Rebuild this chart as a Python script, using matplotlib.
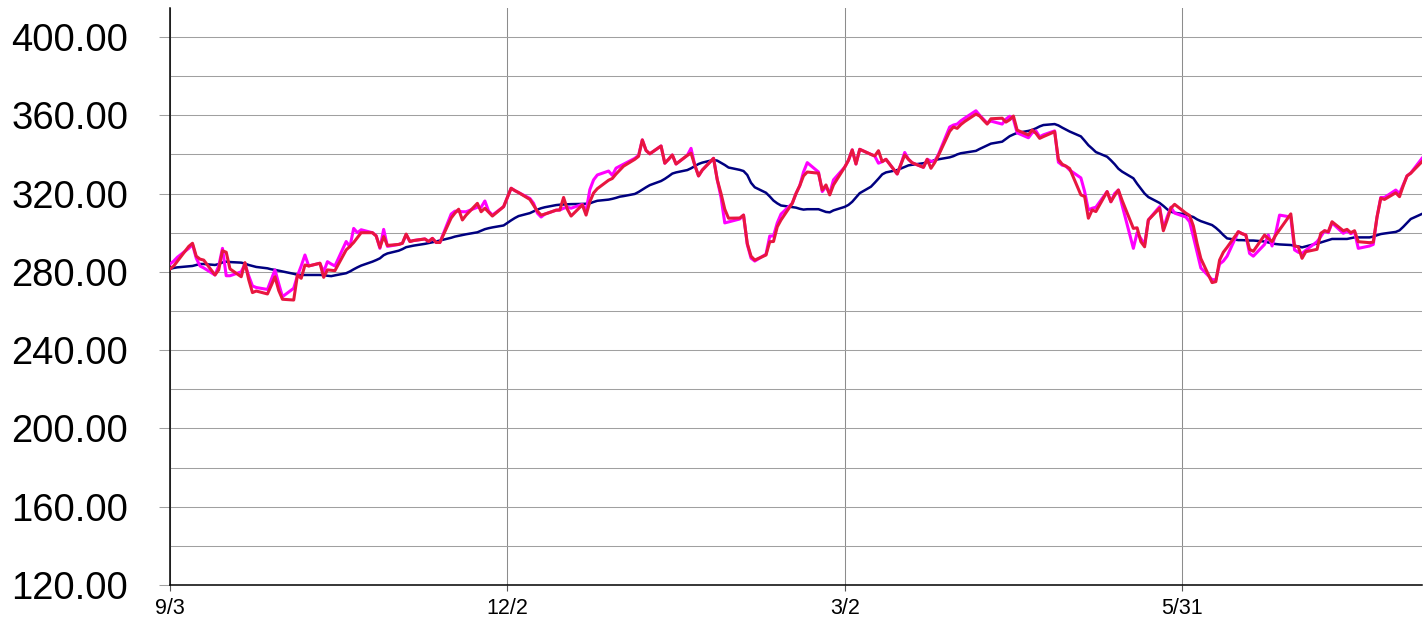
import matplotlib
matplotlib.use('Agg')
import matplotlib.pyplot as plt
import pandas as pd
from matplotlib.ticker import MultipleLocator, FuncFormatter, NullLocator

plt.rcParams['font.family'] = ['Liberation Sans', 'DejaVu Sans']

start_date = '2014-09-03'
end_date = '2015-08-03'
tick_dates = ['2014-09-03', '2014-12-02', '2015-03-02', '2015-05-31']
tick_labels = ['9/3', '12/2', '3/2', '5/31']

# one value per business day (weekly rows)
red = [
    281.5, 283, 285.5,
    293, 294.6, 288, 286.5, 286,
    278.4, 281, 290.8, 290, 281.5,
    277.5, 284.7, 276, 269.4, 270.2,
    268.7, 273, 277.5, 270.5, 266,
    265.6, 278.4, 276.7, 283.5, 283,
    284.4, 277.2, 281, 280.8, 280.6,
    291.2, 293, 295, 297.5, 300,
    300, 298.3, 292.5, 298, 293.5,
    294, 294.6, 299.3, 295.5, 296,
    296.8, 295.5, 297.1, 295, 295,
    307.5, 310, 312, 306.5, 309,
    315, 310.7, 312.5, 310.5, 308.5,
    313.3, 318, 322.7, 321.5, 320.5,
    317, 314, 311, 309, 309.5,
    311.5, 311.6, 318, 312, 308.5,
    314.2, 309, 315.8, 320.3, 322.5,
    326.8, 327.7, 330, 332, 334,
    337.5, 339, 347.4, 342, 340.3,
    344.3, 335.5, 337.5, 339.7, 335.1,
    339.5, 340.6, 334.5, 329, 332,
    338, 327, 320, 312, 307.4,
    307.5, 309, 294.5, 288, 286,
    288.6, 295.4, 295.5, 303, 306.5,
    315, 320, 324, 329, 331,
    330.4, 321.8, 324.4, 319.3, 324.4,
    333.5, 337, 342.3, 335.1, 342.6,
    340, 339.2, 341.9, 336.3, 337.5,
    330, 335, 339.7, 337.5, 335.7,
    333.4, 337.5, 332.9, 335.8, 339.5,
    351.8, 354, 353.3, 355.3, 356.8,
    360.6, 359.6, 357.5, 355.5, 358.2,
    358.5, 356.5, 357.7, 359.6, 352.4,
    349.9, 352.5, 350.8, 348.2, 349.1,
    351.6, 337.5, 335, 334, 332.8,
    319.3, 318.5, 307.4, 311.6, 310.8,
    321, 315.8, 319, 321.8, 316.5,
    302.2, 302.5, 295.4, 292.8, 306.5,
    312.5, 301, 306.5, 312.5, 314.5,
    310, 308.8, 303.5, 294.5, 286.8,
    274.5, 275, 286, 290, 292.5,
    300.5, 299.5, 298.8, 291.5, 290.5,
    298.8, 297, 295.5, 298.8, 301.5,
    309.6, 293.2, 292.8, 286.9, 290.3,
    291.5, 299.7, 301, 300.5, 305.6,
    301, 301.7, 300, 301, 295.4,
    294.9, 295.2, 308, 317.6, 317,
    320.4, 318.4, 324, 329, 330.4,
    336.3,
]

magenta = [
    284, 285.5, 287.5,
    292, 294, 287, 283, 282,
    278.4, 283, 292, 278, 278,
    280, 284, 278, 272.8, 272,
    271, 276, 281, 274, 267.3,
    271.6, 278, 283, 288.6, 283,
    284.4, 280, 285.2, 284, 283,
    295.5, 292.8, 302.2, 300, 301.5,
    300, 298.5, 292, 301.7, 293,
    294, 294.6, 299, 295.5, 296,
    296.8, 295.5, 297.1, 295, 295,
    309.5, 311, 311, 310.7, 310.7,
    313, 313, 316.2, 311, 309,
    313.3, 318, 322.7, 321.5, 320.5,
    317.5, 315, 310, 308, 309.5,
    311.5, 311.6, 312.5, 313, 312.5,
    314.5, 311, 322, 327, 329.5,
    331.5, 329.3, 333, 334, 335,
    338, 339.5, 347.4, 342, 340.3,
    344.3, 335.5, 337.5, 339.7, 335.1,
    339.5, 343.1, 334.5, 329, 332,
    338, 327, 318, 305, 305.5,
    307, 309, 294, 287, 285.5,
    289, 298.3, 298.3, 305, 309.5,
    315, 320, 324, 331, 335.8,
    331, 321, 323.5, 320, 327,
    333.5, 337, 342.3, 335.1, 342.6,
    340, 339.2, 335.5, 336.3, 337.5,
    330, 335, 341, 337.5, 335.7,
    333.4, 337.5, 336.5, 336.5, 340,
    354, 355, 355.5, 357.2, 358.5,
    362.3, 360, 358, 356, 357,
    355.5, 358, 359.5, 358, 351,
    348.5, 351, 352, 349, 350,
    352, 336, 334.5, 334, 332,
    328, 321, 311.6, 312.5, 313,
    321, 315.8, 320, 321.8, 314,
    292, 300, 297, 294, 306.5,
    313.3, 302, 308, 313, 310,
    308, 305.6, 298, 290, 282,
    276, 276, 284, 285.5, 288,
    300.5, 299.5, 298.8, 289.4, 288,
    294, 298.8, 293.2, 300, 309,
    308, 291.2, 290, 289.4, 291,
    295.4, 298, 301, 300, 305,
    299.7, 301, 299.5, 300.5, 292,
    293.2, 294, 308, 318, 318,
    321.8, 320, 324.5, 329, 330.5,
    338,
]

navy = [
    281.5, 282, 282.3,
    282.8, 283, 283.5, 284, 284,
    283.5, 284, 284.8, 285.2, 285,
    284.7, 284.2, 283.5, 283, 282.5,
    281.8, 281.3, 281, 280.6, 280.2,
    279, 278.5, 278.4, 278.4, 278.4,
    278.4, 278.3, 278, 277.8, 278.2,
    279.3, 280.2, 281.3, 282.3, 283.2,
    285.2, 286, 286.9, 288.5, 289.4,
    290.8, 291.6, 292.6, 293, 293.4,
    294.3, 294.7, 295.1, 295.5, 296,
    297.4, 298, 298.4, 298.8, 299.2,
    300.2, 301, 301.8, 302.3, 302.7,
    303.7, 305, 306.3, 307.5, 308.5,
    310, 310.9, 311.8, 312.5, 313,
    314.1, 314.3, 314.4, 314.5, 314.6,
    314.7, 314.8, 315, 315.7, 316.3,
    316.9, 317.3, 317.8, 318.4, 318.7,
    319.8, 320.8, 322, 323.2, 324.3,
    326.4, 327.5, 328.8, 330.2, 330.8,
    332, 332.9, 334, 335.1, 335.8,
    337.2, 336.8, 335.7, 334.6, 333.3,
    332.1, 331.5, 329.5, 325.5, 323.2,
    320.4, 318.5, 316.4, 315, 313.9,
    313.1, 312.8, 312.2, 311.8, 312,
    312, 311.3, 310.6, 310.4, 311.4,
    313.2, 314.2, 315.8, 318, 320.2,
    323.5, 325.5, 327.6, 329.8, 330.8,
    332, 332.8, 333.6, 334.4, 334.7,
    335.5, 336, 336.3, 337.1, 337.5,
    338.5, 339.1, 340, 340.6, 340.9,
    341.8, 342.8, 343.7, 344.6, 345.5,
    346.5, 347.9, 349.3, 350.2, 351,
    352, 352.5, 353.3, 354.3, 355,
    355.5, 354.8, 353.7, 352.7, 351.7,
    349.2, 347, 344.7, 343, 341.2,
    338.8, 337, 335, 332.7, 331.2,
    327.8, 325, 322.5, 320, 318.2,
    315.2, 313.7, 312, 310.7, 310.2,
    309.3, 308.6, 308, 306.8, 305.9,
    303.9, 302.5, 300.8, 298.8, 297.1,
    296.2, 296.2, 296.1, 296, 296,
    295.5, 295, 294.5, 294.2, 294,
    293.7, 293.3, 293, 292.5, 293,
    294.5, 295, 295.6, 296.2, 296.8,
    296.8, 296.8, 297.2, 297.6, 297.6,
    297.6, 298, 298.7, 299.3, 299.6,
    300.4, 301.2, 303, 305, 307,
    309.6,
]

dates = pd.bdate_range(start_date, end_date)

W, H = 1424, 620
fig = plt.figure(figsize=(W / 100, H / 100), dpi=100)
ax = fig.add_axes([170 / W, 1 - 585 / H, (1422 - 170) / W, (585 - 8) / H])

ax.plot(dates, navy, color='#000080', lw=1.8, zorder=3)
ax.plot(dates, magenta, color='#FF00FF', lw=2.2, zorder=4)
ax.plot(dates, red, color='#E8173F', lw=2.2, zorder=5)

ax.set_ylim(120, 414.8)
ax.set_xlim(pd.Timestamp(start_date), pd.Timestamp(end_date))

ax.yaxis.set_major_locator(MultipleLocator(40))
ax.yaxis.set_minor_locator(MultipleLocator(20))
ax.yaxis.set_major_formatter(FuncFormatter(lambda v, p: f'{v:.2f}'))
ax.set_xticks(pd.to_datetime(tick_dates))
ax.set_xticklabels(tick_labels)
ax.xaxis.set_minor_locator(NullLocator())

ax.set_axisbelow(True)
ax.grid(axis='y', which='both', color='#a0a0a0', lw=0.75)
ax.grid(axis='x', which='major', color='#8c8c8c', lw=0.75)

for s in ['top', 'right']:
    ax.spines[s].set_visible(False)
for s in ['left', 'bottom']:
    ax.spines[s].set_color('black')
    ax.spines[s].set_linewidth(1.1)

ax.tick_params(axis='y', which='major', length=8, width=0.75, color='#a0a0a0',
               labelsize=27.5, labelcolor='black', pad=22)
ax.tick_params(axis='y', which='minor', length=0)
ax.tick_params(axis='x', which='major', length=4, width=0.8, color='#555555',
               labelsize=15.5, labelcolor='black', pad=5)

fig.savefig('out.png', dpi=100)
